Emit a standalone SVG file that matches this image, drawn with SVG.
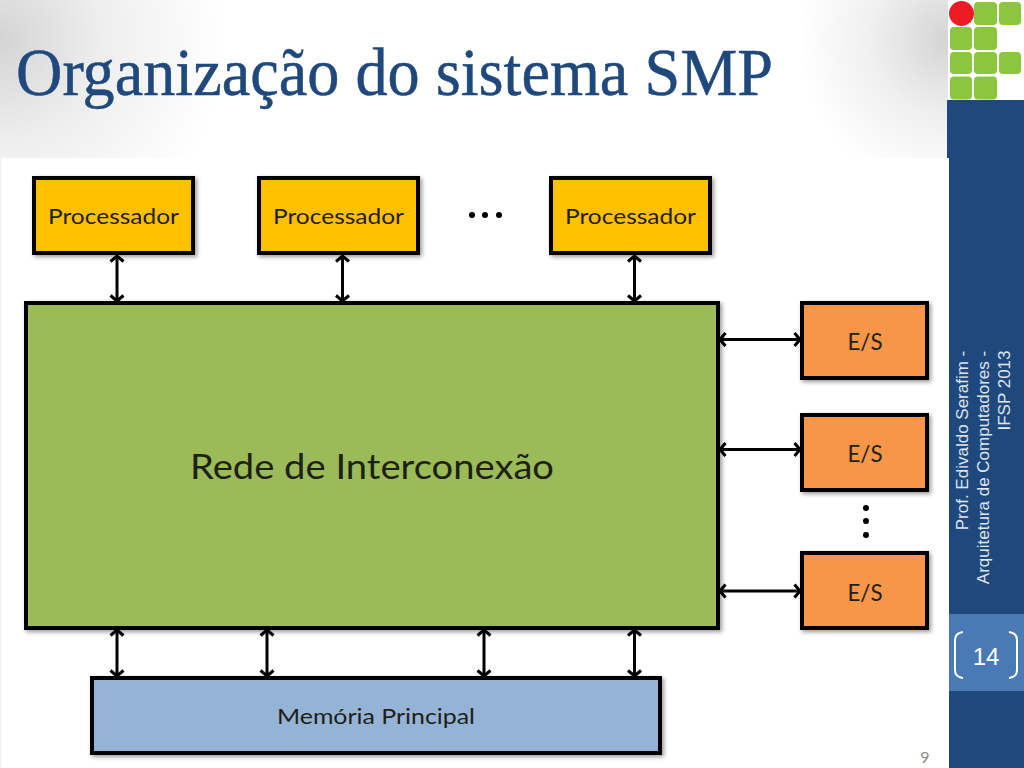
<svg xmlns="http://www.w3.org/2000/svg" width="1024" height="768" viewBox="0 0 1024 768">
<style>
.box{stroke:#000;stroke-width:4}
.lbl{font-family:Lato,"Open Sans","Liberation Sans",sans-serif;fill:#1f1f14;text-anchor:middle}
.side{font-family:"Liberation Sans",Arial,sans-serif;fill:#dfe6f0;font-size:17px;text-anchor:middle}
.arrow{fill:none;stroke:#000;stroke-width:3;marker-start:url(#ah);marker-end:url(#ah)}
.sq{fill:#8cc63f}
</style>
<defs>
<radialGradient id="gl" gradientUnits="userSpaceOnUse" cx="0" cy="40" r="225"><stop offset="0" stop-color="#d4d4d4"/><stop offset=".45" stop-color="#eeeeee"/><stop offset="1" stop-color="#fff"/></radialGradient>
<radialGradient id="gr" gradientUnits="userSpaceOnUse" cx="948" cy="40" r="150"><stop offset="0" stop-color="#d4d4d4"/><stop offset=".5" stop-color="#efefef"/><stop offset="1" stop-color="#fff"/></radialGradient>
<marker id="ah" viewBox="0 0 14 16" refX="12.500" refY="8" markerWidth="14" markerHeight="16" markerUnits="userSpaceOnUse" orient="auto-start-reverse"><path d="M7 1.500 L12.500 8 L7 14.500" fill="none" stroke="#000" stroke-width="3"/></marker>
<filter id="sh" x="-5%" y="-5%" width="110%" height="115%"><feDropShadow dx="2" dy="2" stdDeviation="2" flood-color="#000" flood-opacity=".4"/></filter>
</defs>
<rect width="1024" height="768" fill="#fff"/>
<rect x="0" y="0" width="240" height="160" fill="url(#gl)"/>
<rect x="790" y="0" width="160" height="160" fill="url(#gr)"/>
<rect x="1" y="158" width="947" height="610" fill="#fff"/>
<rect x="0" y="158" width="1" height="610" fill="#eee"/>
<g id="sidebar">
<rect x="947" y="100" width="77" height="58" fill="#1f497d"/>
<rect x="949" y="158" width="75" height="610" fill="#1f497d"/>
<rect x="949" y="614" width="75" height="77" fill="#4a7ab5"/>
<text class="side" transform="translate(968 440.500) rotate(-90)">Prof.  Edivaldo Serafim -</text>
<text class="side" transform="translate(989 467.500) rotate(-90)">Arquitetura de Computadores -</text>
<text class="side" transform="translate(1010 390.500) rotate(-90)">IFSP 2013</text>
<path d="M963 632 Q955 633 955 640 V670 Q955 677 963 678 M1009 632 Q1017 633 1017 640 V670 Q1017 677 1009 678" fill="none" stroke="#fff" stroke-width="2"/>
<text x="986" y="665" font-family="Liberation Sans,Arial,sans-serif" font-size="24" fill="#fff" text-anchor="middle">14</text>
</g>
<g id="logo">
<rect x="948" y="0" width="76" height="100" fill="#fff"/>
<rect class="sq" x="974" y="2" width="23" height="23" rx="4"/><rect class="sq" x="999" y="2" width="22" height="23" rx="4"/>
<rect class="sq" x="950" y="27" width="22" height="23" rx="4"/><rect class="sq" x="974" y="27" width="23" height="23" rx="4"/>
<rect class="sq" x="950" y="52" width="22" height="22" rx="4"/><rect class="sq" x="974" y="52" width="23" height="22" rx="4"/><rect class="sq" x="999" y="52" width="22" height="22" rx="4"/>
<rect class="sq" x="950" y="76.500" width="22" height="23" rx="4"/><rect class="sq" x="974" y="76.500" width="23" height="23" rx="4"/>
<circle cx="961.500" cy="13.500" r="12.500" fill="#ed1c24"/>
</g>
<text id="title" x="16" y="95" font-family="Liberation Serif,serif" font-size="67" fill="#1f497d" stroke="#1f497d" stroke-width=".5" textLength="757" lengthAdjust="spacingAndGlyphs">Organização do sistema SMP</text>
<g id="connectors">
<path class="arrow" d="M117 256V301"/><path class="arrow" d="M342.500 256V301"/><path class="arrow" d="M634.500 256V301"/>
<path class="arrow" d="M720 339.500H800"/><path class="arrow" d="M720 449.500H800"/><path class="arrow" d="M720 591H800"/>
<path class="arrow" d="M117 630V676"/><path class="arrow" d="M267 630V676"/><path class="arrow" d="M484 630V676"/><path class="arrow" d="M634.500 630V676"/>
</g>
<g id="proc1"><rect class="box" x="34" y="178" width="159" height="75" fill="#ffc000" filter="url(#sh)"/><text class="lbl" x="113.500" y="224" font-size="22" textLength="131" lengthAdjust="spacingAndGlyphs">Processador</text></g>
<g id="proc2"><rect class="box" x="259" y="178" width="159" height="75" fill="#ffc000" filter="url(#sh)"/><text class="lbl" x="338.500" y="224" font-size="22" textLength="131" lengthAdjust="spacingAndGlyphs">Processador</text></g>
<g id="proc3"><rect class="box" x="551" y="178" width="159" height="75" fill="#ffc000" filter="url(#sh)"/><text class="lbl" x="630.500" y="224" font-size="22" textLength="131" lengthAdjust="spacingAndGlyphs">Processador</text></g>
<g id="dots-h" fill="#000"><circle cx="472" cy="215" r="3"/><circle cx="485" cy="215" r="3"/><circle cx="499" cy="215" r="3"/></g>
<g id="rede"><rect class="box" x="26" y="303" width="692" height="325" fill="#9bbb59" filter="url(#sh)"/><text class="lbl" x="372" y="479" font-size="34" textLength="364" lengthAdjust="spacingAndGlyphs">Rede de Interconexão</text></g>
<g id="es1"><rect class="box" x="802" y="303" width="125" height="75" fill="#f79646" filter="url(#sh)"/><text class="lbl" x="865" y="350" font-size="24" textLength="35" lengthAdjust="spacingAndGlyphs">E/S</text></g>
<g id="es2"><rect class="box" x="802" y="415" width="125" height="75" fill="#f79646" filter="url(#sh)"/><text class="lbl" x="865" y="462" font-size="24" textLength="35" lengthAdjust="spacingAndGlyphs">E/S</text></g>
<g id="es3"><rect class="box" x="802" y="553" width="125" height="75" fill="#f79646" filter="url(#sh)"/><text class="lbl" x="865" y="601" font-size="24" textLength="35" lengthAdjust="spacingAndGlyphs">E/S</text></g>
<g id="dots-v" fill="#000"><circle cx="866" cy="508" r="3"/><circle cx="866" cy="521" r="3"/><circle cx="866" cy="535" r="3"/></g>
<g id="memoria"><rect class="box" x="92" y="678" width="568" height="75" fill="#95b3d7" filter="url(#sh)"/><text class="lbl" x="376" y="724" font-size="22" textLength="198" lengthAdjust="spacingAndGlyphs">Memória Principal</text></g>
<text id="page" x="925" y="763" font-family="Lato,Open Sans,sans-serif" font-size="16" fill="#8c8c8c" text-anchor="middle">9</text>
</svg>
